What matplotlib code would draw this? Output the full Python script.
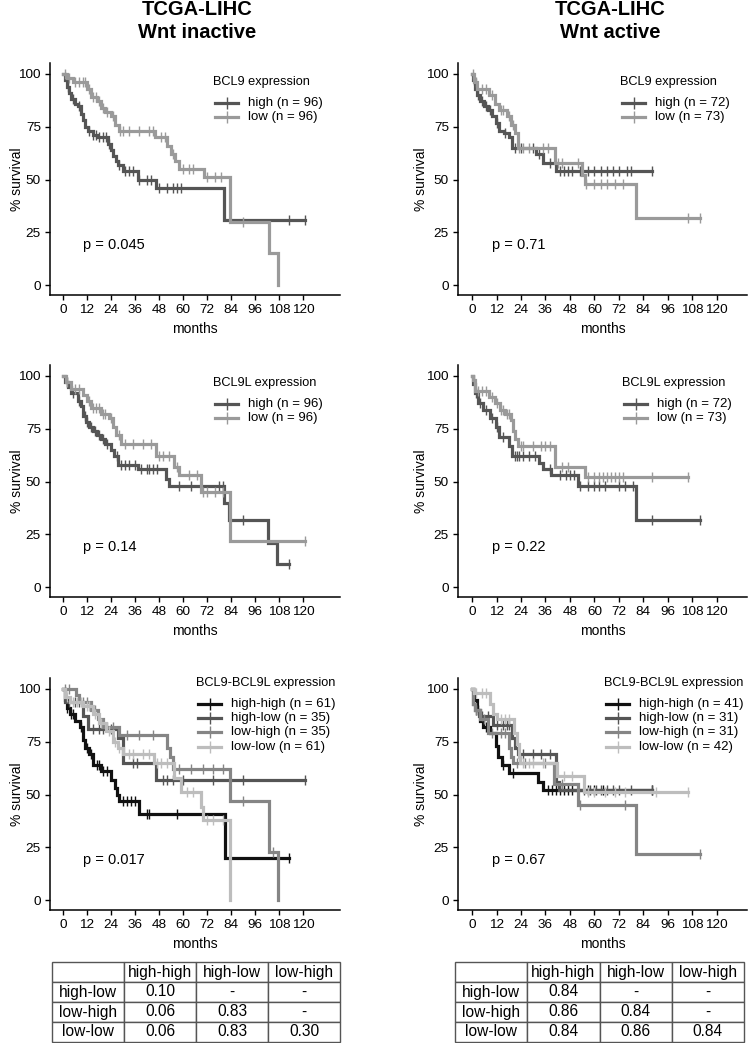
import numpy as np
import matplotlib.pyplot as plt

plt.rcParams['font.family'] = ['Liberation Sans', 'DejaVu Sans']

# ---- data (months, % survival after each drop, censor times) ----
# Wnt inactive, BCL9
a_high_t = [1, 2, 3, 4, 6, 7.5, 9, 10, 11, 12.5, 15, 17, 22.5, 24, 25, 26.5, 27.5, 30, 37.5, 46.5, 80.5]
a_high_s = [97, 94, 91, 88, 86, 85, 81, 78, 75, 73, 71, 70, 67, 64, 61, 59, 57, 54, 50, 46, 31]
a_high_c = [2.5, 5, 8, 13, 15, 16.5, 18, 20, 21.5, 23, 28, 31, 33, 35, 38, 42, 44, 48, 52, 55, 57, 59, 113, 121]
a_low_t = [2, 5, 12, 14, 17, 19, 21, 24, 26, 28, 46, 52, 54, 56, 58, 70.5, 83.5, 103, 107.5]
a_low_s = [98, 96, 93, 89, 87, 84, 82, 80, 76, 73, 70, 66, 62, 59, 55, 51, 30, 15, 0]
a_low_c = [1, 3, 6, 8, 10, 11, 13, 15, 16.5, 18, 20, 22, 25, 28.5, 30, 33, 38, 43, 45, 49, 51, 55, 60, 63, 65, 72, 76, 79, 90]

# Wnt active, BCL9
b_high_t = [0.5, 1.5, 2.5, 4, 6, 8, 10, 11.5, 13, 15.5, 18, 19.5, 31.5, 35, 41]
b_high_s = [97, 93, 90, 87, 85, 83, 80, 77, 73, 72, 70, 65, 62, 58, 54]
b_high_c = [1, 3, 5, 7, 9, 12, 16, 21, 24, 30, 33, 38, 43, 45, 47, 49, 53, 57, 60, 63, 66, 69, 72, 76, 78, 88]
b_low_t = [1, 2.5, 8.5, 11, 13, 17, 19, 21, 22.5, 40.5, 54, 55.5, 80.5]
b_low_s = [96, 93, 90, 86, 83, 80, 76, 72, 65, 58, 52, 48, 32]
b_low_c = [0.5, 2, 5, 7, 10, 14, 15, 18, 20, 23, 25, 28, 35, 37, 42, 44, 52, 56, 60, 63, 66, 70, 74, 106, 112]

# Wnt inactive, BCL9L
c_high_t = [1, 2.5, 4, 7.5, 9, 10, 11.5, 13, 15, 17, 19, 21, 24, 25.5, 27.5, 37.5, 51.5, 53, 80.5, 83, 102.5, 107]
c_high_s = [97, 95, 92, 88, 86, 81, 78, 76, 74, 72, 70, 68, 65, 62, 58, 56, 51, 48, 40, 32, 21, 11]
c_high_c = [2, 5, 8, 11, 12, 14, 16, 18, 20, 22, 27, 29, 31, 33, 36, 39, 42, 43, 45, 47, 58, 64, 78, 80, 90, 113]
c_low_t = [1.5, 4, 10, 12, 14, 19, 23, 25, 26.5, 29, 46.5, 55.5, 58, 69, 83.5]
c_low_s = [97, 94, 91, 88, 85, 82, 80, 76, 72, 68, 62, 57, 53, 45, 22]
c_low_c = [2, 6, 8, 13, 15, 16.5, 18, 20, 21, 24, 28, 31, 35, 40, 44, 48, 50, 53, 57, 63, 67, 70, 72, 76, 80, 121]

# Wnt active, BCL9L
d_high_t = [0.5, 1.5, 3, 5.5, 9, 11.5, 13, 18, 19.5, 33, 35, 38.5, 52, 80.5]
d_high_s = [96, 92, 87, 84, 80, 76, 71, 67, 62, 59, 56, 53, 48, 32]
d_high_c = [2, 4, 7, 10, 12, 15, 21, 22, 23, 25, 28, 31, 38, 43, 46, 48, 50, 53, 57, 60, 62, 65, 72, 75, 79, 88, 112]
d_low_t = [0.5, 1.5, 8.5, 11, 13.5, 16, 19, 20, 21, 22.5, 40.5, 55.5]
d_low_s = [98, 93, 90, 87, 84, 82, 79, 74, 70, 67, 57, 52]
d_low_c = [1, 3, 5, 7, 10, 12, 14, 15, 17, 18, 24, 25, 30, 34, 36, 38, 44, 47, 57, 60, 62, 64, 66, 68, 70, 72, 74, 88, 106]

# Wnt inactive, BCL9-BCL9L
e_hh_t = [1, 2, 3.5, 6, 8.5, 10, 11, 13, 15, 19, 24, 26, 27, 28, 38, 81]
e_hh_s = [95, 91, 88, 85, 82, 76, 72, 69, 64, 61, 57, 53, 50, 47, 41, 20]
e_hh_c = [2, 4, 5, 9, 12, 14, 17, 18, 20, 22, 30, 32, 34, 36, 42, 43, 57, 113]
e_hl_t = [1, 10, 12.5, 27.5, 30, 46.5]
e_hl_s = [94, 87, 81, 77, 65, 57]
e_hl_c = [3, 6, 8, 15, 18, 20, 24, 35, 37, 50, 52, 55, 60, 75, 90, 121]
e_lh_t = [6.5, 8, 14, 17.5, 20, 28, 52, 53.5, 55, 83.5, 103, 107.5]
e_lh_s = [97, 94, 90, 86, 82, 78, 72, 68, 62, 47, 23, 0]
e_lh_c = [1, 3, 10, 12, 16, 22, 25, 32, 38, 45, 58, 64, 70, 75, 80, 90, 105]
e_ll_t = [1, 3.5, 10, 15, 18, 21.5, 25, 27.5, 30, 45.5, 55.5, 59, 69, 70, 83.5]
e_ll_s = [96, 94, 92, 88, 84, 80, 75, 72, 69, 65, 58, 51, 44, 38, 0]
e_ll_c = [2, 5, 7, 9, 12, 13, 16, 19, 23, 26, 28, 33, 35, 40, 43, 47, 49, 52, 62, 65, 72, 75, 80]

# Wnt active, BCL9-BCL9L
f_hh_t = [1, 2.5, 4, 5.5, 9, 11.5, 12.5, 14.5, 18, 32.5, 35]
f_hh_s = [95, 90, 85, 82, 79, 73, 68, 64, 60, 56, 52]
f_hh_c = [3, 7, 15, 20, 37, 39, 41, 43, 45, 47, 49, 52, 57, 60, 64, 88]
f_hl_t = [0.5, 1.5, 3.5, 10.5, 19.5, 21, 22.5, 41, 42.5]
f_hl_s = [93, 90, 87, 83, 77, 72, 69, 56, 52]
f_hl_c = [2, 5, 8, 12, 15, 17, 18, 25, 30, 34, 38, 55, 58, 61, 63, 66, 69, 72, 78, 88]
f_lh_t = [0.5, 1.5, 4, 8, 18, 19, 20, 40, 52, 80.5]
f_lh_s = [93, 90, 86, 79, 72, 68, 65, 55, 45, 22]
f_lh_c = [2, 6, 10, 14, 16, 22, 26, 36, 44, 53, 75, 112]
f_ll_t = [1, 9, 10.5, 12, 20.5, 22, 23, 23.5, 41.5, 55]
f_ll_s = [98, 93, 88, 86, 79, 74, 68, 65, 59, 51]
f_ll_c = [2, 5, 7, 14, 16, 18, 25, 28, 30, 35, 45, 49, 57, 60, 65, 70, 75, 90, 106]

pvals = ['p = 0.045', 'p = 0.71', 'p = 0.14', 'p = 0.22', 'p = 0.017', 'p = 0.67']
two_labels_inact = ['high (n = 96)', 'low (n = 96)']
two_labels_act = ['high (n = 72)', 'low (n = 73)']
four_labels_inact = ['high-high (n = 61)', 'high-low (n = 35)', 'low-high (n = 35)', 'low-low (n = 61)']
four_labels_act = ['high-high (n = 41)', 'high-low (n = 31)', 'low-high (n = 31)', 'low-low (n = 42)']

tbl_cols = ['', 'high-high', 'high-low', 'low-high']
tbl_rows = ['high-low', 'low-high', 'low-low']
tbl_inact = [['0.10', '-', '-'], ['0.06', '0.83', '-'], ['0.06', '0.83', '0.30']]
tbl_act = [['0.84', '-', '-'], ['0.86', '0.84', '-'], ['0.84', '0.86', '0.84']]

two_colors = ['#555555', '#9a9a9a']
four_colors = ['#111111', '#555555', '#858585', '#bdbdbd']

W, H = 750, 1043
fig = plt.figure(figsize=(W / 100, H / 100), dpi=100)
LW = 2.3


def km(ax, t, s, c, color):
    t = list(t)
    s = list(s)
    end = max(t + list(c))
    if s[-1] == 0:
        end = t[-1]
    xs = [0] + t + [end]
    ys = [100] + s + [s[-1]]
    ax.step(xs, ys, where='post', color=color, lw=LW, solid_joinstyle='miter')
    c = np.array(c)
    idx = np.searchsorted(np.array(t), c, side='right')
    full = np.array([100] + s)
    ax.plot(c, full[idx], ls='none', marker='|', ms=6.5, mew=1, color=color)


def key_legend(title, labels, colors, tx, ty):
    # legend drawn in figure pixels: title then rows 14.2 px apart
    fig.text(tx / W, 1 - ty / H, title, fontsize=9.2, ha='left', va='center')
    for i, (lab, col) in enumerate(zip(labels, colors)):
        y = 1 - (ty + 21 + 14.2 * i) / H
        x0, x1 = (tx + 2) / W, (tx + 25) / W
        fig.add_artist(plt.Line2D([x0, x1], [y, y], color=col, lw=LW))
        fig.add_artist(plt.Line2D([(x0 + x1) / 2], [y], color=col, marker='|', ms=8, mew=1))
        fig.text((tx + 35) / W, y, lab, fontsize=9.5, ha='left', va='center')


def panel(px, top, curves, colors, labels, title, pv, leg_px, right=False):
    width = 289 if right else 290
    ax = fig.add_axes([px / W, 1 - (top + 232) / H, width / W, 232 / H])
    for (t, s, c), col in zip(curves, colors):
        km(ax, t, s, c, col)
    ax.set_xlim((-6.9, 134.8) if right else (-6.5, 138.5))
    ax.set_ylim(-4.7, 105.2)
    ax.set_xticks(np.arange(0, 121, 12))
    ax.set_yticks([0, 25, 50, 75, 100])
    for sp in ['top', 'right']:
        ax.spines[sp].set_visible(False)
    for sp in ['left', 'bottom']:
        ax.spines[sp].set_linewidth(1.1)
    ax.tick_params(length=3.5, width=1, labelsize=9.7, pad=3)
    ax.set_ylabel('% survival', fontsize=10)
    ax.yaxis.set_label_coords(-0.105 if right else -0.088, 0.5)
    ax.set_xlabel('months', fontsize=10)
    ax.xaxis.set_label_coords(0.5, -0.115)
    ax.text(10, 19, pv, fontsize=10.5, ha='left', va='center')
    key_legend(title, labels, colors, *leg_px)
    return ax


LX, RX = 50, 458
panel(LX, 63, [(a_high_t, a_high_s, a_high_c), (a_low_t, a_low_s, a_low_c)],
      two_colors, two_labels_inact, 'BCL9 expression', pvals[0], (213, 82))
panel(RX, 63, [(b_high_t, b_high_s, b_high_c), (b_low_t, b_low_s, b_low_c)],
      two_colors, two_labels_act, 'BCL9 expression', pvals[1], (620, 82), right=True)
panel(LX, 365, [(c_high_t, c_high_s, c_high_c), (c_low_t, c_low_s, c_low_c)],
      two_colors, two_labels_inact, 'BCL9L expression', pvals[2], (213, 383))
panel(RX, 365, [(d_high_t, d_high_s, d_high_c), (d_low_t, d_low_s, d_low_c)],
      two_colors, two_labels_act, 'BCL9L expression', pvals[3], (622, 383), right=True)
panel(LX, 678, [(e_hh_t, e_hh_s, e_hh_c), (e_hl_t, e_hl_s, e_hl_c),
                (e_lh_t, e_lh_s, e_lh_c), (e_ll_t, e_ll_s, e_ll_c)],
      four_colors, four_labels_inact, 'BCL9-BCL9L expression', pvals[4], (196, 683))
panel(RX, 678, [(f_hh_t, f_hh_s, f_hh_c), (f_hl_t, f_hl_s, f_hl_c),
                (f_lh_t, f_lh_s, f_lh_c), (f_ll_t, f_ll_s, f_ll_c)],
      four_colors, four_labels_act, 'BCL9-BCL9L expression', pvals[5], (604, 683), right=True)

fig.text(197 / W, 1 - 21 / H, 'TCGA-LIHC\nWnt inactive', fontsize=14.5, fontweight='bold',
         ha='center', va='center', linespacing=1.25)
fig.text(610 / W, 1 - 21 / H, 'TCGA-LIHC\nWnt active', fontsize=14.5, fontweight='bold',
         ha='center', va='center', linespacing=1.25)


def pv_table(x0, x1, vals):
    tax = fig.add_axes([x0 / W, 1 - 1042 / H, (x1 - x0) / W, 80 / H])
    tax.axis('off')
    cells = [tbl_cols] + [[r] + v for r, v in zip(tbl_rows, vals)]
    tb = tax.table(cellText=cells, cellLoc='center', bbox=[0, 0, 1, 1])
    tb.auto_set_font_size(False)
    tb.set_fontsize(11.2)
    for cell in tb.get_celld().values():
        cell.set_edgecolor('#555555')
        cell.set_linewidth(1)


pv_table(52, 340, tbl_inact)
pv_table(455, 744, tbl_act)

fig.savefig('out.png', dpi=100)
